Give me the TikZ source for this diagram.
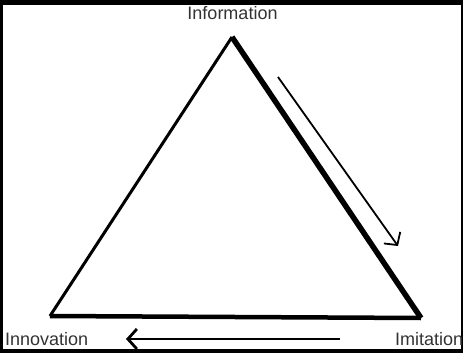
\documentclass[tikz,border=0pt]{standalone}
\usepackage{fontspec}
\setmainfont{Liberation Sans}
\usetikzlibrary{arrows.meta}

\begin{document}
\begin{tikzpicture}[x=1pt,y=-1pt,>={Straight Barb[length=9pt,width=20pt]},
  lbl/.style={inner sep=0pt,text=black!80,font=\fontsize{18}{18}\selectfont}]
  \fill[black] (0,0) rectangle (463,353);
  \fill[white] (3,5) rectangle (461,349);
  \clip (3,5) rectangle (461,349);
  \coordinate (top) at (232,37);
  \coordinate (left) at (50,316);
  \coordinate (right) at (421,318);
  \draw[line width=3pt] (left) -- (top);
  \draw[line width=5.5pt] (top) -- (right);
  \draw[line width=4.5pt] (left) -- (right);
  \node[lbl,anchor=base] (info) at (232.5,20) {Information};
  \node[lbl,anchor=base west] (innov) at (5,345) {Innovation};
  \node[lbl,anchor=base west] (imit) at (395,345) {Imitation};
  \coordinate (a1) at (278,77);
  \coordinate (b1) at (398,246);
  \draw[->,line width=1.8pt] (a1) -- (b1);
  \coordinate (a2) at (340,339);
  \coordinate (b2) at (126,339);
  \draw[->,line width=2.8pt] (a2) -- (b2);
\end{tikzpicture}
\end{document}
